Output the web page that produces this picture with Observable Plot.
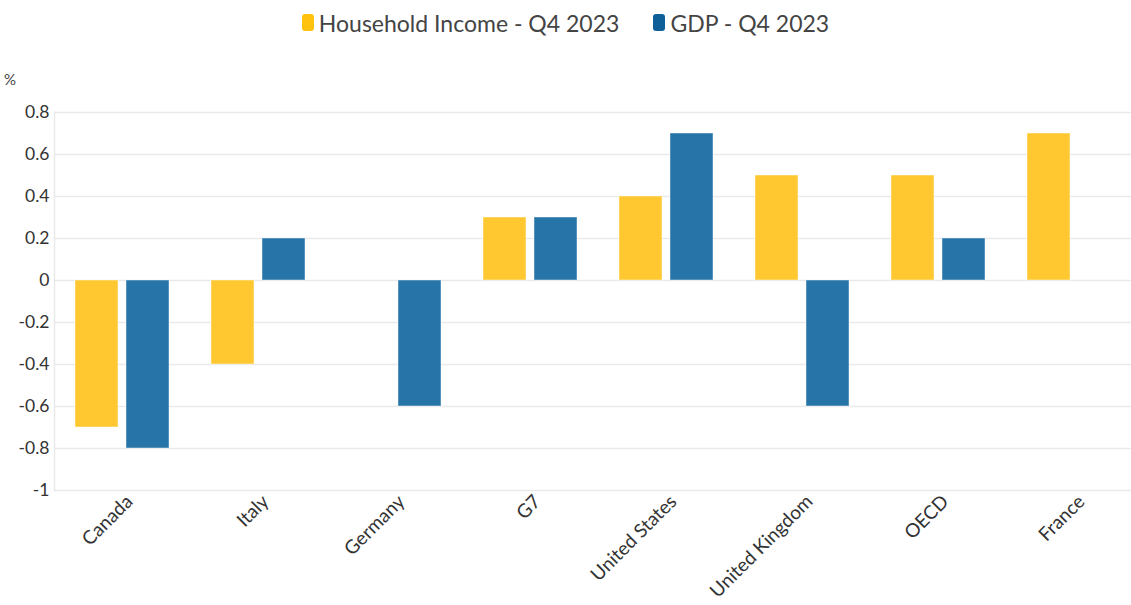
<!DOCTYPE html>
<html>
<head>
<meta charset="utf-8">
<script src="https://cdn.jsdelivr.net/npm/d3@7"></script>
<script src="https://cdn.jsdelivr.net/npm/@observablehq/plot@0.6"></script>
<style>
  html, body { margin: 0; background: #fff; overflow: hidden; font-family: "Source Sans Pro", Lato, "Noto Sans", sans-serif; }
  #legend { width: 1131px; height: 45px; display: flex; justify-content: center; align-items: center; gap: 34px; font-size: 23px; color: #444; box-sizing: border-box; }
  .item { display: flex; align-items: center; }
  .sw { width: 12px; height: 17px; border-radius: 3px; margin-right: 5px; }
  #chart { width: 1131px; overflow: hidden; }
  #chart svg { max-width: none !important; display: block; }
</style>
</head>
<body>
<div id="legend"></div>
<div id="chart"></div>
<script>
const countries = ["Canada", "Italy", "Germany", "G7", "United States", "United Kingdom", "OECD", "France"];
const seriesNames = ["Household Income - Q4 2023", "GDP - Q4 2023"];
const householdIncome = [-0.7, -0.4, null, 0.3, 0.4, 0.5, 0.5, 0.7];
const gdp = [-0.8, 0.2, -0.6, 0.3, 0.7, -0.6, 0.2, null];
const colors = ["#ffc629", "#1f6fa5"];
const legendColors = ["#ffc20e", "#0e5f98"];
const yTicks = [-1, -0.8, -0.6, -0.4, -0.2, 0, 0.2, 0.4, 0.6, 0.8];

const data = [];
countries.forEach((c, i) => {
  data.push({country: c, series: seriesNames[0], value: householdIncome[i]});
  data.push({country: c, series: seriesNames[1], value: gdp[i]});
});

const legend = document.getElementById("legend");
seriesNames.forEach((s, i) => {
  const it = document.createElement("div");
  it.className = "item";
  it.innerHTML = `<span class="sw" style="background:${legendColors[i]}"></span><span>${s}</span>`;
  legend.appendChild(it);
});

const chart = Plot.plot({
  width: 1142,
  height: 560,
  marginTop: 67,
  marginBottom: 115,
  marginLeft: 54,
  marginRight: 0,
  style: {fontFamily: '"Source Sans Pro", Lato, "Noto Sans", sans-serif', fontSize: "17px", color: "#333", background: "#fff", maxWidth: "none"},
  fx: {domain: countries, padding: 0, label: null},
  x: {domain: seriesNames, paddingInner: 0.157, paddingOuter: 0.41, axis: null},
  y: {domain: [-1, 0.8], label: null},
  color: {domain: seriesNames, range: colors},
  marks: [
    Plot.gridY(yTicks, {stroke: "#e9e9e9", strokeOpacity: 1, strokeWidth: 1.5}),
    Plot.frame({anchor: "left", facet: "super", stroke: "#e9e9e9", strokeWidth: 1.5}),
    Plot.barY(data.filter(d => d.value != null), {
      fx: "country", x: "series", y: "value", fill: "series",
      stroke: "#fff", strokeOpacity: 0.45, strokeWidth: 1, fillOpacity: 0.97
    }),
    Plot.axisY(yTicks, {tickSize: 0, tickPadding: 5, tickFormat: d => String(+d.toFixed(1)), fontSize: 17.5, fill: "#333", label: null}),
    Plot.axisFx({anchor: "bottom", tickRotate: -45, tickSize: 0, tickPadding: 8, dx: 7, fontSize: 19, fill: "#333", label: null})
  ]
});
document.getElementById("chart").appendChild(chart);

d3.select(chart).append("text")
  .attr("x", 10).attr("y", 40)
  .attr("font-size", 15).attr("fill", "#444")
  .text("%");
</script>
</body>
</html>
